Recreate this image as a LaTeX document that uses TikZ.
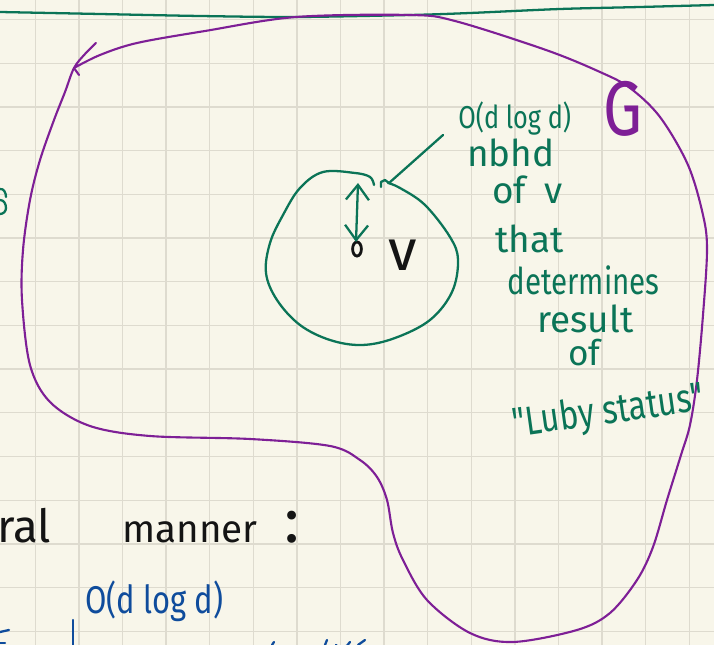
\documentclass[tikz,border=0pt]{standalone}
\usepackage{fontspec}
\setmainfont{Fira Sans}
\newfontfamily\hand[FakeStretch=0.8]{Fira Sans}
\newfontfamily\handwide{Fira Sans}
\usetikzlibrary{arrows.meta,shapes.geometric}
\definecolor{paper}{HTML}{F8F6EA}
\definecolor{gridc}{HTML}{DEDBCF}
\definecolor{inkgreen}{HTML}{0B7457}
\definecolor{inkpurple}{HTML}{7E1F96}
\definecolor{inkblue}{HTML}{0F4C9C}
\definecolor{inkblack}{HTML}{141414}
\tikzset{
  hw/.style={font=\hand\fontsize{#1}{#1}\selectfont, inner sep=0pt, anchor=base west},
  hwn/.style={font=\handwide\fontsize{#1}{#1}\selectfont, inner sep=0pt, anchor=base west},
  gtext/.style={text=inkgreen},
  btext/.style={text=inkblue},
  ktext/.style={text=inkblack},
  gline/.style={draw=inkgreen, line width=1.3pt, line cap=round, line join=round},
  pline/.style={draw=inkpurple, line width=1.2pt, line cap=round, line join=round},
  bline/.style={draw=inkblue, line width=1.3pt, line cap=round},
  gridline/.style={draw=gridc, line width=0.7pt}
}
\begin{document}
\begin{tikzpicture}[x=0.02cm,y=-0.02cm]
\useasboundingbox (0,0) rectangle (714,645);
\fill[paper] (0,0) rectangle (714,645);
% grid
\foreach \i in {0,...,15} {\draw[gridline] ({35.3+43.6*\i},0) -- ({35.3+43.6*\i},645);}
\foreach \j in {0,...,14} {\draw[gridline] (0,{19.5+43.7*\j}) -- (714,{19.5+43.7*\j});}
% top green rule
\draw[gline] plot[smooth] coordinates {(0,12) (100,14) (200,16) (296,17) (410,15) (470,13) (560,9) (640,7) (714,5)};
% purple region G
\draw[pline] plot[smooth, tension=0.55] coordinates {(74,68) (100,55) (137,43) (205,31) (296,17) (410,15) (455,21) (546,50) (600,72) (630,88) (660,117) (688,165) (703,215) (707,250) (703,315) (697,380) (690,425) (681,455) (667,500) (653,547) (637,580) (610,613) (577,630) (513,642) (470,633) (427,600) (403,560) (393,533) (387,500) (377,477) (360,460) (330,446) (250,439) (150,436) (90,426) (50,402) (30,365) (22,300) (23,250) (30,200) (40,160) (54,120) (65,92) (74,68) (85,54) (96,43)};
\coordinate (junc) at (74,68);
\coordinate (tail) at (79,75);
\draw[pline] (junc) -- (tail);
\node[hw=44, text=inkpurple] (G) at (603,136) {G};
% neighbourhood blob
\draw[gline] plot[smooth, tension=0.6] coordinates {(374,185) (370,177) (355,173) (323,172) (300,188) (283,215) (270,243) (266,273) (277,300) (300,325) (330,340) (362,345) (395,338) (430,320) (452,292) (458,260) (450,237) (425,205) (400,188) (388,183)};
\draw[gline] (381,187) -- (381,182) -- (385,180) -- (389,183);
% vertex v
\node[draw=inkblack, line width=1.6pt, ellipse, minimum width=5pt, minimum height=8pt, inner sep=0pt] (dot) at (357,249) {};
\node[hwn=33, ktext] (vlab) at (388,271) {v};
% radius double arrow
\coordinate (rtop) at (358,183);
\coordinate (rbot) at (356,242);
\draw[gline, {Straight Barb[length=3mm,width=4.6mm]}-{Straight Barb[length=3mm,width=4.6mm]}] (rtop) -- (rbot);
% annotation text
\node[hw=18, gtext] (l1) at (458,129) {O(d log d)};
\node[hwn=21, gtext] (l2) at (467,167) {nbhd};
\node[hwn=21, gtext] (l3) at (492,204) {of\hspace{0.5em}v};
\node[hwn=21, gtext] (l4) at (495,253) {that};
\node[hw=21, gtext] (l5) at (507,295) {determines};
\node[hwn=21, gtext] (l6) at (537,333) {result};
\node[hwn=20, gtext] (l7) at (568,366) {of};
\node[hw=23, gtext, rotate=8] (l8) at (514,437) {"Luby status"};
\coordinate (lead) at (443,135);
\coordinate (nb) at (389,183);
\draw[gline] (nb) -- (lead);
% lower text
\node[hwn=26, ktext] (ral) at (-3,542) {ral};
\node[hwn=22, ktext] (manner) at (122,542) {manner};
\node[hwn=36, ktext] (colon) at (284,542) {:};
\node[hw=22, btext] (bigo) at (85,613) {O(d log d)};
% cut-off fragments at the edges
\draw[bline] (0,632) -- (9,630);
\draw[bline] (0,643) -- (5,643);
\draw[bline] (73,620) -- (73,645);
\draw[bline] (272,645) -- (274,642);
\draw[bline] (325,645) -- (327,640);
\draw[bline] (336,645) to[out=-70,in=-110] (350,642);
\draw[bline] (358,645) -- (365,640);
\draw[gline] (0,189) to[out=10,in=90] (6,197);
\draw[gline] (0,200) to[out=0,in=90] (6,208) to[out=-90,in=0] (0,214);
\end{tikzpicture}
\end{document}
